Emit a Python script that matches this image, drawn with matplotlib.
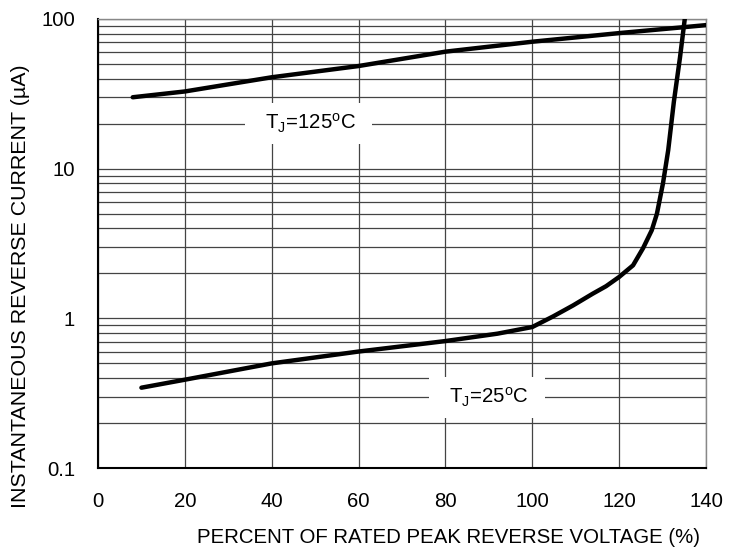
import matplotlib
matplotlib.use("Agg")
import matplotlib.pyplot as plt
from matplotlib.ticker import FixedLocator, LogLocator, NullFormatter

plt.rcParams['font.family'] = ['Liberation Sans', 'DejaVu Sans']
plt.rcParams['mathtext.fontset'] = 'custom'
plt.rcParams['mathtext.rm'] = 'Liberation Sans'
plt.rcParams['mathtext.it'] = 'Liberation Sans'

# percent of rated voltage vs reverse current (uA)
v_125 = [8, 20, 40, 60, 80, 100, 120, 140]
i_125 = [30, 32.8, 40.8, 48.5, 60.5, 70.5, 80.5, 91]

v_25 = [10, 20, 40, 60, 80, 92, 100, 104.8, 109.4, 113.9, 117, 120, 123.2,
        125.5, 127.5, 128.7, 130.1, 131.3, 132.6, 134.0, 135.2]
i_25 = [0.344, 0.389, 0.50, 0.60, 0.705, 0.79, 0.875, 1.03, 1.22, 1.46, 1.64,
        1.89, 2.26, 2.94, 3.87, 5.0, 8.0, 13.3, 28, 55, 105]

x_ticks = [0, 20, 40, 60, 80, 100, 120, 140]
y_ticks = [0.1, 1, 10, 100]
y_tick_labels = ['0.1', '1', '10', '100']

fs = 14.7

fig = plt.figure(figsize=(7.4, 5.6), dpi=100)
ax = fig.add_axes([98/740, 1-468/560, 608/740, 449/560])

ax.set_yscale('log')
ax.set_xlim(0, 140)
ax.set_ylim(0.1, 100)

ax.plot(v_125, i_125, color='black', lw=3.2, solid_capstyle='round', solid_joinstyle='round', zorder=5)
ax.plot(v_25, i_25, color='black', lw=3.2, solid_capstyle='round', solid_joinstyle='round', zorder=5)

ax.xaxis.set_major_locator(FixedLocator(x_ticks))
ax.yaxis.set_major_locator(FixedLocator(y_ticks))
ax.set_yticklabels(y_tick_labels)
ax.yaxis.set_minor_locator(LogLocator(base=10, subs=range(2, 10)))
ax.yaxis.set_minor_formatter(NullFormatter())

ax.grid(True, which='major', color='#444444', lw=0.9)
ax.grid(True, which='minor', axis='y', color='#444444', lw=0.9)
ax.tick_params(which='both', length=0, labelsize=fs)
ax.tick_params(axis='x', pad=17)
ax.tick_params(axis='y', pad=16.5)

for s in ['left', 'bottom']:
    ax.spines[s].set_linewidth(1.5)
    ax.spines[s].set_color('black')
for s in ['top', 'right']:
    ax.spines[s].set_linewidth(1.0)
    ax.spines[s].set_color('#888888')

ax.set_xlabel('PERCENT OF RATED PEAK REVERSE VOLTAGE (%)', fontsize=fs, va='center')
ax.set_ylabel('INSTANTANEOUS REVERSE CURRENT (µA)', fontsize=15.4, va='center')
ax.xaxis.set_label_coords(0.576, -0.154)
ax.yaxis.set_label_coords(-0.128, 0.405)

box = dict(boxstyle='square,pad=0.45', facecolor='white', edgecolor='none')
ax.text(48.4, 20, r'  T$_\mathrm{J}$=125$^\mathrm{o}$C  ', fontsize=fs, ha='center', va='center', bbox=box, zorder=4)
ax.text(89.6, 0.296, r'  T$_\mathrm{J}$=25$^\mathrm{o}$C  ', fontsize=fs, ha='center', va='center', bbox=box, zorder=4)

fig.savefig('out.png', dpi=100)
